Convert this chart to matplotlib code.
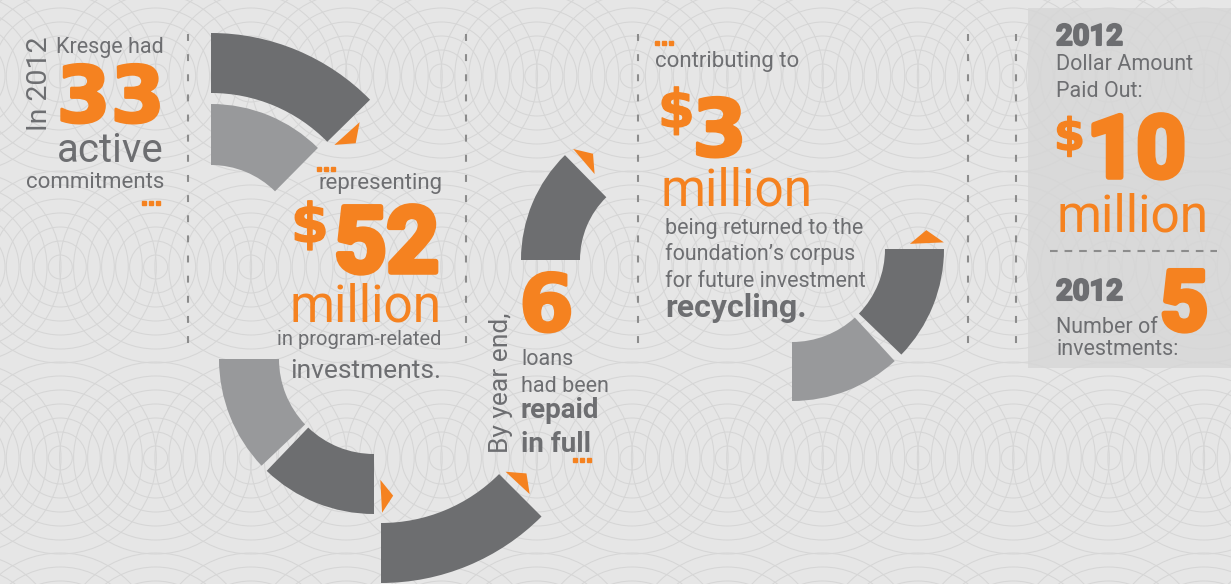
import numpy as np
import matplotlib.pyplot as plt
import matplotlib.patheffects as pe
from matplotlib.patches import Wedge, Polygon, Rectangle, Circle

# headline figures (Kresge 2012 program-related investments)
commitments = 33
pri_millions = 52
loans_repaid = 6
returned_millions = 3
paid_out_millions = 10
n_investments = 5

ORANGE = '#f58220'
GREY = '#6d6e71'
DARK = '#6d6e70'
LIGHT = '#98999b'
BG = '#e6e6e6'
BOX = '#d9d9d9'

plt.rcParams['font.family'] = ['Roboto', 'DejaVu Sans']
plt.rcParams['lines.scale_dashes'] = False

fig = plt.figure(figsize=(12.31, 5.84), dpi=100)
fig.patch.set_facecolor(BG)
ax = fig.add_axes([0, 0, 1, 1])
ax.set_xlim(0, 1231)
ax.set_ylim(584, 0)
ax.axis('off')
ax.set_facecolor(BG)

# grey box on the right
ax.add_patch(Rectangle((1028, 8), 203, 360, fc=BOX, ec='none', zorder=0))

# background ring pattern
for cy in [-115, 76, 267, 458, 649]:
    for cx in np.arange(-35, 1330, 95.3):
        for r in range(12, 100, 14):
            ax.add_patch(Circle((cx, cy), r, fill=False, ec='#d6d6d6', lw=0.75, zorder=0.2))


def seg(c, r_in, r_out, t1, t2, color):
    ax.add_patch(Wedge(c, r_out, t1, t2, width=r_out - r_in, fc=color, ec='none', zorder=2))


def arrow(c, ang, r1, r2, h, sign):
    a = np.radians(ang)
    c = np.array(c, dtype=float)
    radial = np.array([np.cos(a), np.sin(a)])
    tang = sign * np.array([-np.sin(a), np.cos(a)])
    p1 = c + r1 * radial
    p2 = c + r2 * radial
    tip = c + (r1 + r2) / 2 * radial + h * tang
    ax.add_patch(Polygon([p1, p2, tip], closed=True, fc=ORANGE, ec='none', zorder=2))


# top-left pair
seg((211, 256), 163, 223, 270, 315.5, DARK)
seg((211, 256), 91, 152, 270, 314.7, LIGHT)
arrow((211, 256), 318, 166, 200, 13, 1)
# lower-left
seg((374, 359), 95, 155, 136.5, 180, LIGHT)
seg((374, 359), 95, 155, 90, 133.8, DARK)
arrow((374, 359), 87, 121, 154, 12, -1)
# middle
seg((668, 260), 88, 147, 180, 225.5, DARK)
arrow((668, 260), 229.5, 113, 146, 12, 1)
# bottom
seg((381, 356), 167, 227, 45, 90, DARK)
arrow((381, 356), 42.9, 170, 203, 13, -1)
# right
seg((792, 249), 93, 152, 0, 44, DARK)
seg((792, 249), 93, 152, 47.5, 90, LIGHT)
arrow((792, 249), -2.5, 118, 152, 13, -1)

# dashed dividers
for x in [188, 466, 638, 968, 1016]:
    ax.plot([x, x], [34, 346], color='#8c8c8c', lw=1.5, dashes=(5, 9.5), zorder=1)
ax.plot([1050, 1217], [251, 251], color='#8c8c8c', lw=1.5, dashes=(5.5, 5), zorder=1)


def t(x, y, s, size, color=GREY, weight='normal', ha='left', **kw):
    return ax.text(x, y, s, fontsize=size, color=color, fontweight=weight, ha=ha,
                   va='baseline', zorder=3, **kw)


def big(x, y, s, size, ha='left', family=None, stroke=4, color=ORANGE):
    kw = {}
    if family:
        kw['family'] = family
    return t(x, y, s, size, color, 'bold', ha=ha,
             path_effects=[pe.withStroke(linewidth=stroke, foreground=color)], **kw)


def dots(x0, y):
    ax.plot([x0 + 2, x0 + 9, x0 + 16], [y, y, y], 's', color=ORANGE, ms=3, zorder=3)


WIDE = ['DejaVu Sans']

# column 1
t(47, 131, 'In 2012', 20.5, rotation=90, rotation_mode='anchor')
t(164, 53, 'Kresge had', 15.5, ha='right')
big(165, 122, f'{commitments}', 56, ha='right', family=WIDE, stroke=2)
t(164, 162, 'active', 29, ha='right')
t(164, 188, 'commitments', 16, ha='right')
dots(142, 203)

# column 2
dots(317, 169)
t(442, 189, 'representing', 16, ha='right')
big(291, 242, '$', 39, family=WIDE, stroke=1)
big(439, 272, f'{pri_millions}', 66, ha='right')
t(442, 322, 'million', 37, ORANGE, ha='right')
t(441, 345, 'in program-related', 14.5, ha='right')
t(441, 378, 'investments.', 19, ha='right')

# column 3
t(508, 453, 'By year end,', 19, rotation=90, rotation_mode='anchor')
big(519, 331, f'{loans_repaid}', 57, family=WIDE, stroke=2)
t(521, 365, 'loans', 15.5)
t(521, 392, 'had been', 15.5)
t(521, 418, 'repaid', 20, weight='bold')
t(521, 452, 'in full', 20, weight='bold')
dots(573, 460)

# column 4
dots(655, 43)
t(655, 67, 'contributing to', 16)
big(658, 127, '$', 38, family=WIDE, stroke=1)
big(692, 156, f'{returned_millions}', 57, family=WIDE, stroke=2)
t(661, 205, 'million', 37, ORANGE)
t(665, 234, 'being returned to the', 15.5)
t(665, 260, 'foundation\u2019s corpus', 15.5)
t(665, 287, 'for future investment', 15.5)
t(665, 317, 'recycling.', 23, weight='bold')

# box
big(1056, 45, '2012', 21, stroke=1.5, color=GREY)
t(1056, 70, 'Dollar Amount', 15.5)
t(1056, 97, 'Paid Out:', 15.5)
big(1054, 150, '$', 32, family=WIDE, stroke=1)
big(1087, 177, f'{paid_out_millions}', 62)
t(1056, 232, 'million', 37, ORANGE)
big(1056, 300, '2012', 21, stroke=1.5, color=GREY)
t(1056, 333, 'Number of', 15.5)
t(1056, 355, 'investments:', 15.5)
big(1160, 330, f'{n_investments}', 60)

fig.savefig('out.png', dpi=100, facecolor=BG)
